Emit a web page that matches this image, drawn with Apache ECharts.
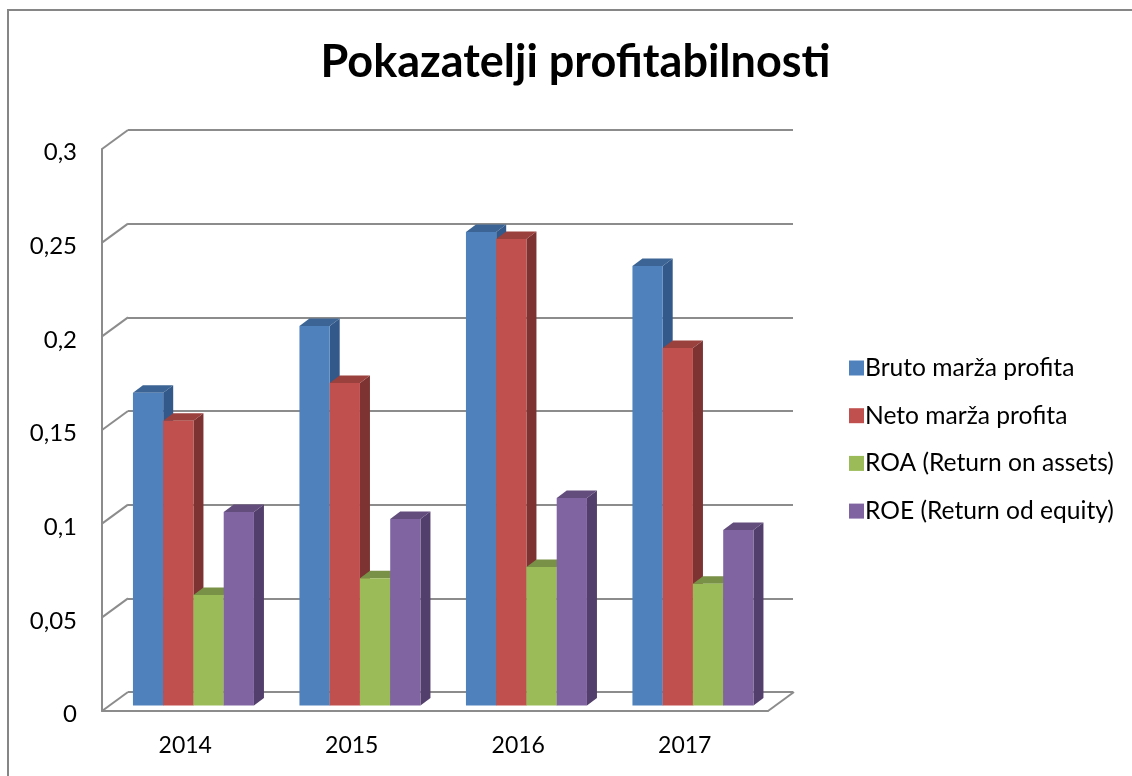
<!DOCTYPE html>
<html>
<head>
<meta charset="utf-8">
<style>
html, body { margin: 0; padding: 0; background: #fff; }
#chart { width: 1132px; height: 776px; }
</style>
<script src="https://cdn.jsdelivr.net/npm/echarts@6/dist/echarts.min.js"></script>
</head>
<body>
<div id="chart"></div>
<script>
const years = ['2014', '2015', '2016', '2017'];
const yTicks = [0, 0.05, 0.1, 0.15, 0.2, 0.25, 0.3];
const brutoMarza = [0.167, 0.2027, 0.2528, 0.2347];
const netoMarza = [0.152, 0.1722, 0.2491, 0.1909];
const roa = [0.059, 0.068, 0.074, 0.065];
const roe = [0.1034, 0.0996, 0.1108, 0.0938];

const names = ['Bruto marža profita', 'Neto marža profita', 'ROA (Return on assets)', 'ROE (Return od equity)'];
const values = [brutoMarza, netoMarza, roa, roe];
const colors = ['#4f81bd', '#c0504d', '#9bbb59', '#8064a2'];
const tops = ['#3c6494', '#9a403d', '#789146', '#634d7d'];
const sides = ['#33598a', '#7c3331', '#5f7338', '#533f6b'];

const FONT = 'Lato';
const GRID_COLOR = '#8c8c8c';
// depth of the box and of the bars
const WALL_DX = 26, WALL_DY = 19;
const BAR_DX = 8.2, BAR_DY = 5.4;
const DEPTH_X = 10, DEPTH_Y = 7.5;
const GROUP_W = 121;

function poly(points, fill) {
    return { type: 'polygon', shape: { points: points }, style: { fill: fill, stroke: null } };
}

const barSeries = names.map((name, i) => ({
    name: name,
    type: 'custom',
    xAxisIndex: 0,
    yAxisIndex: 0,
    z: 5,
    itemStyle: { color: colors[i] },
    data: values[i].map((v, c) => [c, v]),
    encode: { x: 0, y: 1 },
    renderItem: (params, api) => {
        const top = api.coord([api.value(0), api.value(1)]);
        const base = api.coord([api.value(0), 0]);
        const w = GROUP_W / names.length;
        const x = top[0] + BAR_DX - GROUP_W / 2 + i * w;
        const y = top[1] - BAR_DY;
        const y0 = base[1] - BAR_DY;
        return {
            type: 'group',
            children: [
                poly([[x + w, y], [x + w + DEPTH_X, y - DEPTH_Y], [x + w + DEPTH_X, y0 - DEPTH_Y], [x + w, y0]], sides[i]),
                poly([[x, y], [x + DEPTH_X, y - DEPTH_Y], [x + w + DEPTH_X, y - DEPTH_Y], [x + w, y]], tops[i]),
                poly([[x, y], [x + w, y], [x + w, y0], [x, y0]], colors[i])
            ]
        };
    }
}));

// diagonals joining the front axis with the back wall, and the floor's right edge
const wallSeries = {
    type: 'custom',
    xAxisIndex: 0,
    yAxisIndex: 0,
    z: 1,
    silent: true,
    legendHoverLink: false,
    data: yTicks.map(v => [0, v]),
    encode: { x: 0, y: 1 },
    renderItem: (params, api) => {
        const y = api.coord([0, api.value(1)])[1];
        const left = params.coordSys.x;
        const right = left + params.coordSys.width;
        const lineStyle = { stroke: GRID_COLOR, lineWidth: 2, fill: null };
        const children = [{
            type: 'line',
            shape: { x1: left, y1: y, x2: left + WALL_DX, y2: y - WALL_DY },
            style: lineStyle
        }];
        if (api.value(1) === 0) {
            children.push({
                type: 'line',
                shape: { x1: right, y1: y, x2: right + WALL_DX, y2: y - WALL_DY },
                style: lineStyle
            });
        }
        return { type: 'group', children: children };
    }
};

const option = {
    animation: false,
    backgroundColor: '#fff',
    textStyle: { fontFamily: FONT },
    title: {
        text: 'Pokazatelji profitabilnosti',
        left: 570.5,
        top: 35,
        textAlign: 'center',
        textStyle: { fontFamily: FONT, fontSize: 45, fontWeight: 'bold', color: '#000' }
    },
    legend: {
        orient: 'vertical',
        left: 844,
        top: 350,
        itemWidth: 15,
        itemHeight: 15,
        itemGap: 21.7,
        icon: 'rect',
        selectedMode: false,
        data: names,
        textStyle: { fontFamily: FONT, fontSize: 24.6, lineHeight: 26, color: '#000', padding: [0, 0, 0, -4] }
    },
    grid: [
        { left: 102, top: 149, width: 666, height: 562 },
        { left: 128, top: 130, width: 665, height: 562 }
    ],
    xAxis: [
        {
            type: 'category',
            gridIndex: 0,
            data: years,
            axisLine: { lineStyle: { color: GRID_COLOR, width: 2 } },
            axisTick: { show: false },
            axisLabel: { color: '#000', fontSize: 23, fontFamily: FONT, margin: 23 }
        },
        { type: 'category', gridIndex: 1, data: years, show: false }
    ],
    yAxis: [
        {
            type: 'value',
            gridIndex: 0,
            min: 0,
            max: 0.3,
            interval: 0.05,
            axisLine: { show: true, lineStyle: { color: GRID_COLOR, width: 2 } },
            axisTick: { show: false },
            splitLine: { show: false },
            axisLabel: {
                color: '#000',
                fontSize: 24,
                fontFamily: FONT,
                margin: 25,
                // labels sit a little under their tick in the original
                verticalAlign: 'top',
                lineHeight: 7,
                formatter: v => String(+v.toFixed(2)).replace('.', ',')
            }
        },
        {
            type: 'value',
            gridIndex: 1,
            min: 0,
            max: 0.3,
            interval: 0.05,
            axisLine: { show: false },
            axisTick: { show: false },
            axisLabel: { show: false },
            splitLine: { show: true, lineStyle: { color: GRID_COLOR, width: 2 } }
        }
    ],
    graphic: [{
        type: 'polyline',
        silent: true,
        shape: { points: [[8, 776], [8, 10], [1132, 10]] },
        style: { stroke: '#868686', lineWidth: 2, fill: null }
    }],
    series: [wallSeries].concat(barSeries)
};

const myChart = echarts.init(document.getElementById('chart'));
myChart.setOption(option);
</script>
</body>
</html>
